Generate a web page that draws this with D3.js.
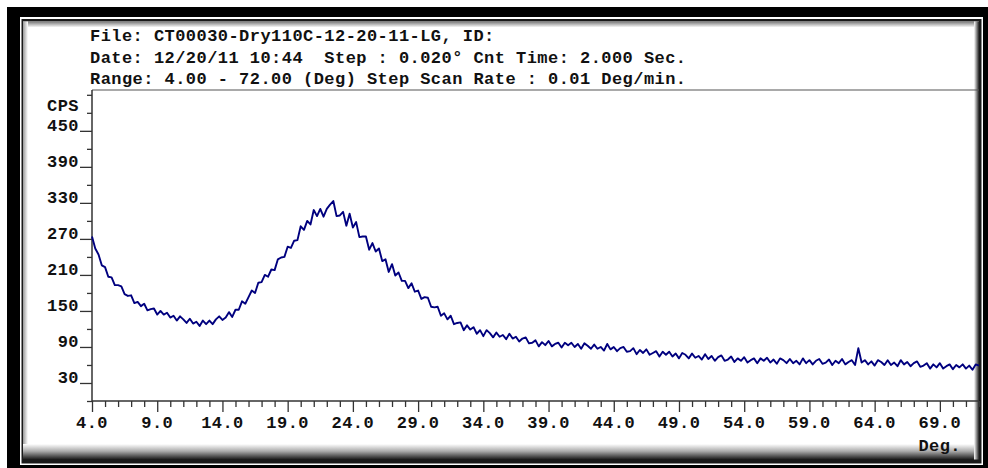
<!DOCTYPE html>
<html><head><meta charset="utf-8">
<script src="https://cdn.jsdelivr.net/npm/d3@7"></script>
<style>
html,body{margin:0;padding:0;background:#fff;}
svg{display:block;}
text{font-family:"Liberation Mono","Courier New",monospace;font-weight:bold;font-size:17px;fill:#111;letter-spacing:0.45px;white-space:pre;}
</style></head><body>
<svg id="c" width="988" height="468"></svg>
<script>
const headerLines = [
  "File: CT00030-Dry110C-12-20-11-LG, ID:",
  "Date: 12/20/11 10:44  Step : 0.020\u00b0 Cnt Time: 2.000 Sec.",
  "Range: 4.00 - 72.00 (Deg) Step Scan Rate : 0.01 Deg/min."
];
const xAxisTitle = "Deg.";
const yAxisTitle = "CPS";
const scanStart = 4.0;
const scanStep = 0.25;
const cpsValues = [
  274,254,244,226,223,207,206,193,193,191,178,175,176,163,165,158,162,151,153,154,
  144,150,144,147,139,142,134,141,136,130,137,129,132,125,134,128,134,128,136,141,
  135,139,148,140,152,152,166,162,173,184,180,197,198,210,207,219,218,236,239,240,
  257,255,267,268,291,285,300,294,318,308,320,307,320,327,333,308,309,315,292,312,
  289,298,273,274,274,252,263,249,254,233,236,215,228,209,214,200,200,188,196,182,
  184,170,173,172,157,156,157,142,146,136,142,128,130,131,118,126,119,123,112,118,
  108,118,113,106,114,107,110,103,112,104,107,99,104,106,96,97,101,91,98,93,
  100,91,95,97,89,97,93,97,90,95,87,96,92,87,94,87,90,84,95,86,
  90,83,88,90,82,83,88,78,85,80,86,77,80,83,74,82,77,82,74,79,
  71,80,77,71,79,72,75,69,78,70,75,67,73,76,67,69,74,65,71,67,
  73,64,68,71,63,71,67,72,64,69,62,71,68,63,70,63,67,61,71,63,
  68,61,67,70,62,64,69,60,67,63,70,61,65,68,60,88,64,68,61,66,
  59,68,65,60,68,60,64,58,68,61,65,58,63,66,57,59,63,54,61,56,
  63,54,58,61,53,60,56,61,54,59,52,61,59
];
const xMajorTicks = [4,9,14,19,24,29,34,39,44,49,54,59,64,69];
const yLabelTicks = [30,90,150,210,270,330,390,450];
const yMinorStep = 30;
const yMinorMax = 510;

const svg = d3.select("#c");
const defs = svg.append("defs");
function grad(id, x1,y1,x2,y2, stops){
  const g = defs.append("linearGradient").attr("id",id)
    .attr("x1",x1).attr("y1",y1).attr("x2",x2).attr("y2",y2);
  stops.forEach(s=>g.append("stop").attr("offset",s[0]).attr("stop-color",s[1]));
}
grad("gTop",0,0,0,1,[[0,"#777"],[1,"#fff"]]);
grad("gLeft",0,0,1,0,[[0,"#999"],[1,"#fff"]]);
grad("gBot",0,0,0,1,[[0,"#fff"],[0.45,"#aaa"],[1,"#111"]]);
grad("gRight",0,0,1,0,[[0,"#fff"],[1,"#222"]]);

// frame
svg.append("rect").attr("x",0).attr("y",0).attr("width",988).attr("height",468).attr("fill","#fff");
svg.append("rect").attr("x",7).attr("y",7).attr("width",981).attr("height",461).attr("fill","#000");
svg.append("rect").attr("x",20).attr("y",17).attr("width",963).attr("height",448).attr("fill","#fff");
svg.append("rect").attr("x",21.5).attr("y",19).attr("width",960).attr("height",444.5).attr("fill","#1a1a1a");
svg.append("rect").attr("x",23).attr("y",21.5).attr("width",956).attr("height",438).attr("fill","#fff");
svg.append("rect").attr("x",23).attr("y",21.5).attr("width",956).attr("height",6).attr("fill","url(#gTop)");
svg.append("rect").attr("x",23).attr("y",21.5).attr("width",5).attr("height",438).attr("fill","url(#gLeft)");
svg.append("rect").attr("x",23).attr("y",444).attr("width",956).attr("height",16).attr("fill","url(#gBot)");
svg.append("rect").attr("x",974).attr("y",21.5).attr("width",5).attr("height",438).attr("fill","url(#gRight)");

// scales
const x = d3.scaleLinear().domain([4,72]).range([92,979]);
const y = d3.scaleLinear().domain([0,518]).range([401,90]);

// header
headerLines.forEach((t,i)=>{
  svg.append("text").attr("x",90).attr("y",41+i*21.5).text(t);
});

// plot frame top line
svg.append("line").attr("x1",x(4)).attr("x2",x(72)).attr("y1",y(518)).attr("y2",y(518))
  .attr("stroke","#555").attr("stroke-width",1.2);

// y axis
const yMinor = d3.range(0, yMinorMax+1, yMinorStep);
const yAxis = d3.axisLeft(y).tickValues(yMinor).tickSize(5).tickFormat("");
const gy = svg.append("g").attr("transform",`translate(${x(4)},0)`).call(yAxis);
gy.select(".domain").attr("stroke","#333").attr("stroke-width",1.5).attr("d",`M-0,${y(0)}V${y(518)}`);
gy.selectAll(".tick line").attr("stroke","#333").attr("stroke-width",1.3)
  .attr("x2", d => yLabelTicks.includes(d) ? -12 : -5);
yLabelTicks.forEach(v=>{
  svg.append("text").attr("x",79).attr("y",y(v)).attr("text-anchor","end").text(String(v));
});
svg.append("text").attr("x",79).attr("y",111).attr("text-anchor","end").text(yAxisTitle);

// x axis
const xMinor = d3.range(4, 73, 1);
const xAxis = d3.axisBottom(x).tickValues(xMinor).tickSize(6).tickFormat("");
const gx = svg.append("g").attr("transform",`translate(0,${y(0)})`).call(xAxis);
gx.select(".domain").attr("stroke","#333").attr("stroke-width",1.5).attr("d",`M${x(4)},0H${x(72)}`);
gx.selectAll(".tick line").attr("stroke","#333").attr("stroke-width",1.3)
  .attr("y2", d => xMajorTicks.includes(d) ? 11 : 6);
xMajorTicks.forEach(v=>{
  svg.append("text").attr("x",x(v)).attr("y",428).attr("text-anchor","middle").text(v.toFixed(1));
});
svg.append("text").attr("x",961).attr("y",451).attr("text-anchor","end").text(xAxisTitle);

// data line
const line = d3.line()
  .x((d,i)=>x(scanStart + i*scanStep))
  .y(d=>y(d));
svg.append("path").datum(cpsValues).attr("d",line)
  .attr("fill","none").attr("stroke","#00007f").attr("stroke-width",1.9)
  .attr("stroke-linejoin","round");
</script>
</body></html>
